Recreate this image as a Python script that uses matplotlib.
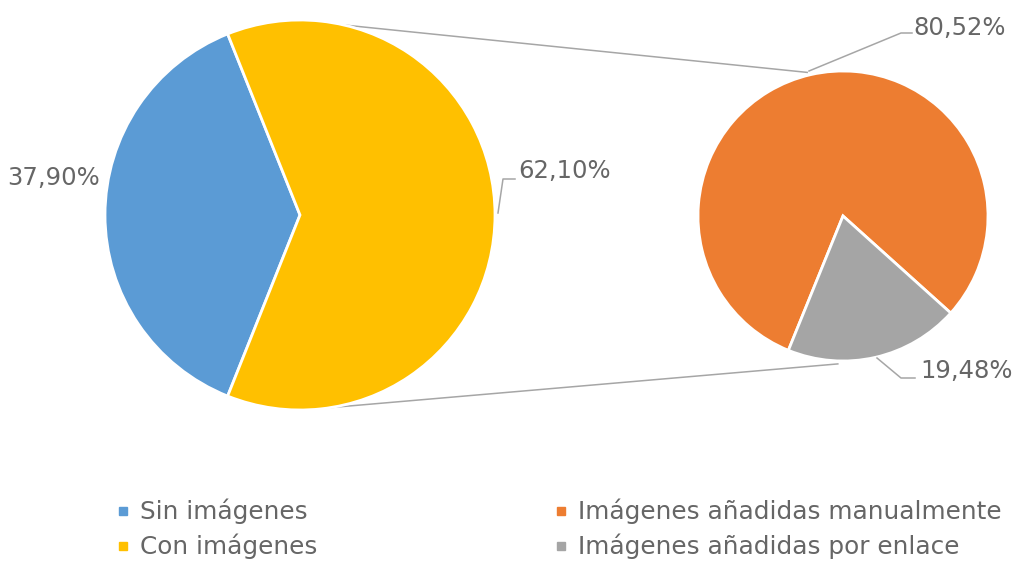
import numpy as np
import matplotlib
matplotlib.use("Agg")
import matplotlib.pyplot as plt

# Data
main_labels = ["Sin imágenes", "Con imágenes"]
main_values = [37.90, 62.10]
main_colors = ["#5B9BD5", "#FFC000"]

sub_labels = ["Imágenes añadidas manualmente", "Imágenes añadidas por enlace"]
sub_values = [80.52, 19.48]
sub_colors = ["#ED7D31", "#A5A5A5"]

TEXT = "#666666"
LINE = "#A6A6A6"
FONT = "DejaVu Sans"

W, H = 1015, 567
fig = plt.figure(figsize=(W / 100, H / 100), dpi=100)
ax = fig.add_axes([0, 0, 1, 1])


def Y(y):
    # convert a top-down pixel row to the axes' upward y
    return H - y


def pct(v):
    return f"{v:.2f}%".replace(".", ",")


def on_circle(c, r, deg):
    a = np.deg2rad(deg)
    return c[0] + r * np.cos(a), c[1] + r * np.sin(a)


main_c, main_r = (300, Y(215)), 195
sub_c, sub_r = (843, Y(216)), 145
wp = dict(edgecolor="white", linewidth=2)

# primary pie: first slice centred on the left side
main_start = 180 - main_values[0] / 100 * 180
ax.pie(main_values, colors=main_colors, startangle=main_start,
       center=main_c, radius=main_r, wedgeprops=wp)

# secondary pie breaking down the "Con imágenes" slice
ax.pie(sub_values, colors=sub_colors, startangle=-42,
       center=sub_c, radius=sub_r, wedgeprops=wp)

ax.set_xlim(0, W)
ax.set_ylim(0, H)
ax.set_aspect("equal")
ax.axis("off")

# connector lines between the two pies
for a_main, a_sub in [(77, 104), (-81, -92)]:
    p0 = on_circle(main_c, main_r, a_main)
    p1 = on_circle(sub_c, sub_r + 3, a_sub)
    ax.plot([p0[0], p1[0]], [p0[1], p1[1]], color=LINE, lw=1.1, zorder=0)

# data labels with leader lines
fs = 17.5
ax.text(100, Y(185), pct(main_values[0]), ha="right", va="baseline",
        fontsize=fs, color=TEXT, family=FONT)

ax.plot([498, 503, 515], [Y(213), Y(179), Y(179)], color=LINE, lw=1.1)
ax.text(518, Y(178), pct(main_values[1]), ha="left", va="baseline",
        fontsize=fs, color=TEXT, family=FONT)

ax.plot([809, 901, 912], [Y(71), Y(33), Y(33)], color=LINE, lw=1.1)
ax.text(913, Y(35), pct(sub_values[0]), ha="left", va="baseline",
        fontsize=fs, color=TEXT, family=FONT)

ax.plot([877, 901, 915], [Y(358), Y(378), Y(378)], color=LINE, lw=1.1)
ax.text(920, Y(378), pct(sub_values[1]), ha="left", va="baseline",
        fontsize=fs, color=TEXT, family=FONT)

# legend: two columns, one per pie
rows = [519, 554]
for x0, labels, colors in [(123, main_labels, main_colors),
                           (561, sub_labels, sub_colors)]:
    for yb, lab, col in zip(rows, labels, colors):
        ax.plot([x0], [Y(yb - 8)], marker="s", ms=5.5, color=col,
                linestyle="none", clip_on=False)
        ax.text(x0 + 17, Y(yb), lab, ha="left", va="baseline",
                fontsize=17.8, color=TEXT, family=FONT)

fig.savefig("out.png", dpi=100, facecolor="white")
